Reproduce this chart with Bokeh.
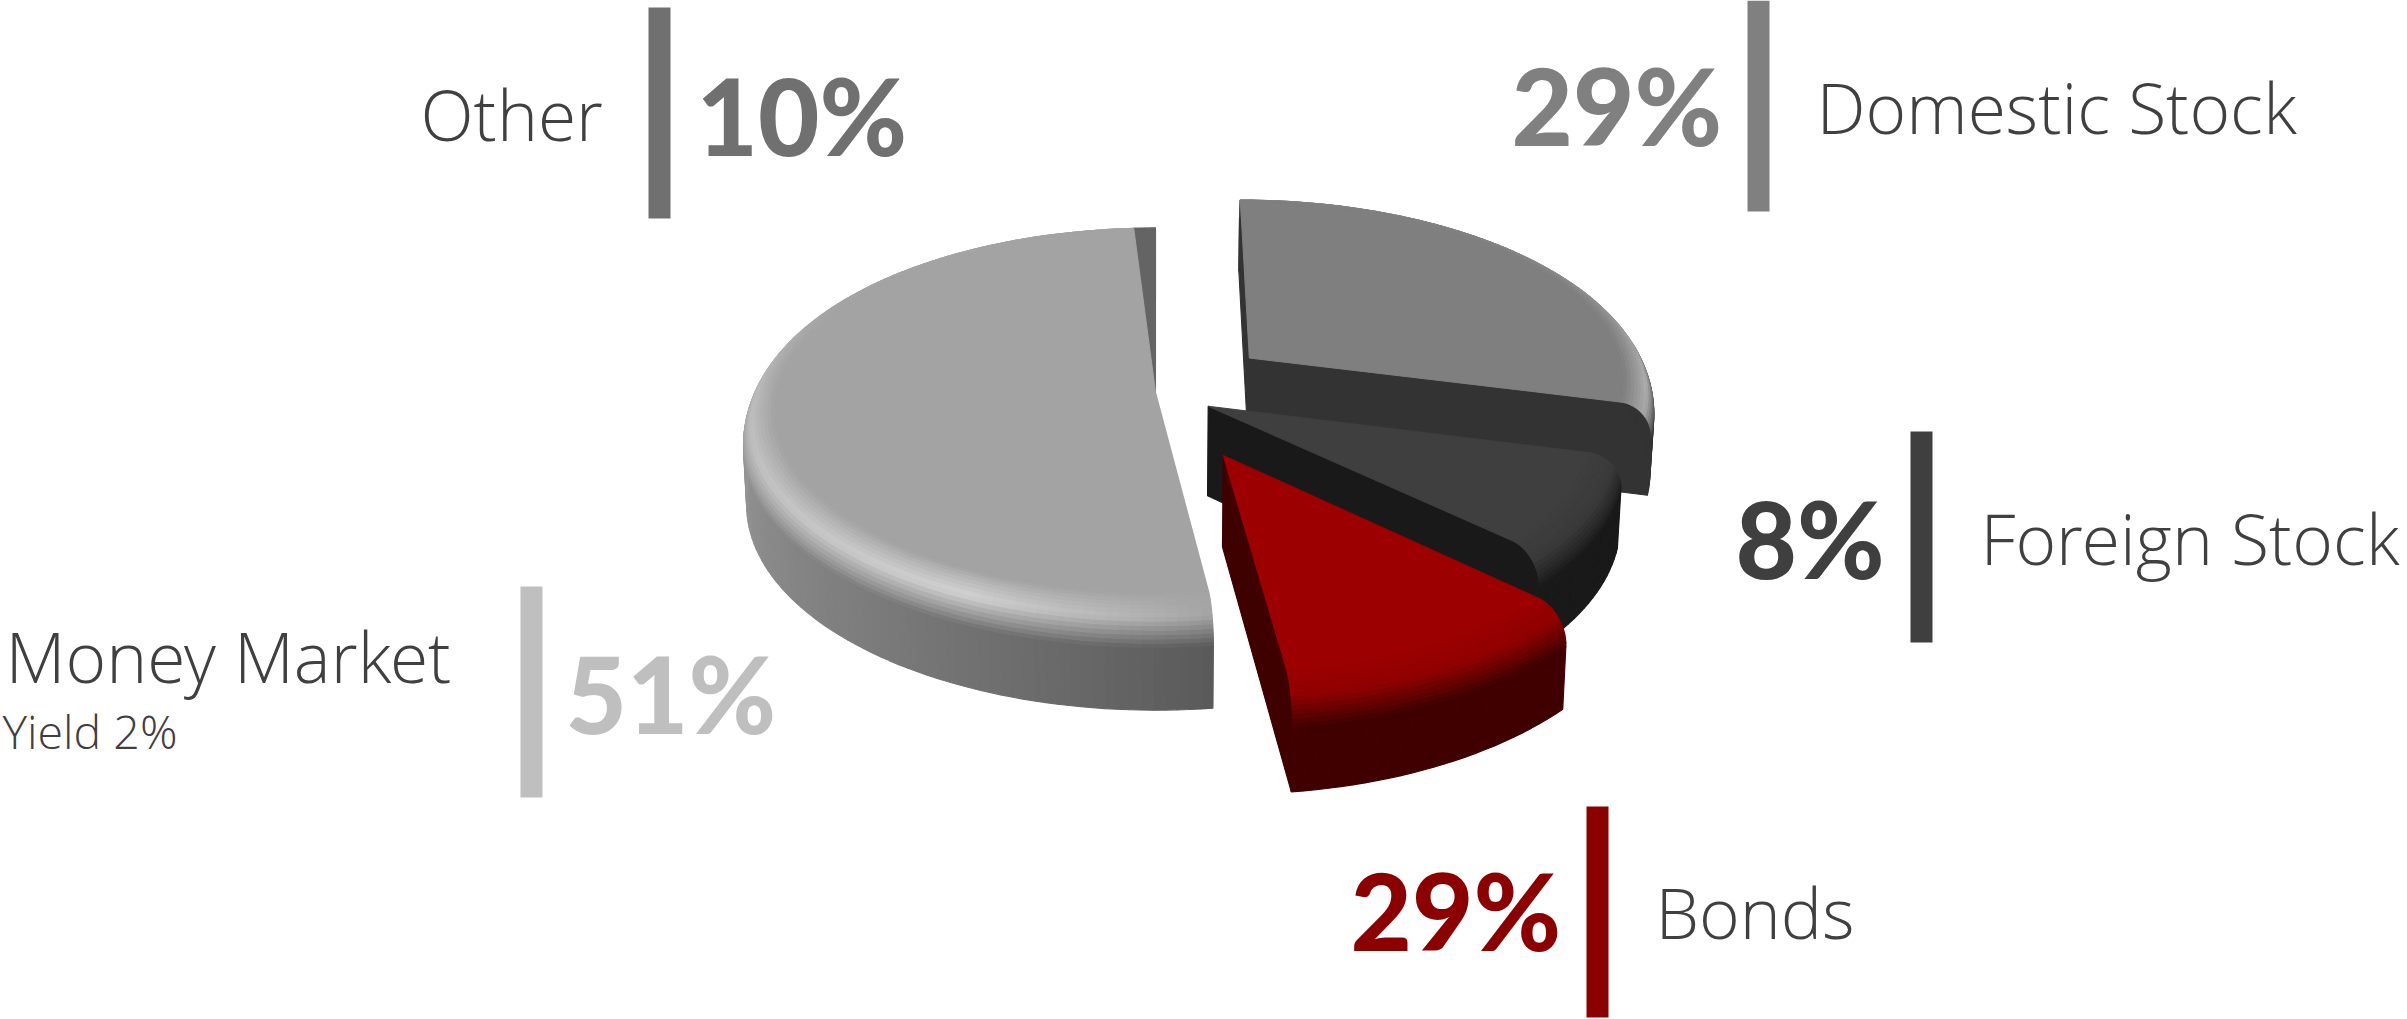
import numpy as np
from bokeh.plotting import figure
from bokeh.models import Range1d
from bokeh.core.properties import value
from bokeh.embed import file_html
from bokeh.resources import INLINE

# ---- data
slice_names = ["Other", "Domestic Stock", "Foreign Stock", "Bonds", "Money Market"]
slice_shares = [1, 29, 8, 11, 51]
slice_explode = [0.0, 0.295, 0.145, 0.35, 0.0]
label_names = ["Other", "Domestic Stock", "Foreign Stock", "Bonds", "Money Market"]
label_percents = ["10%", "29%", "8%", "29%", "51%"]
label_colors = ["#707070", "#808080", "#3f3f3f", "#8b0000", "#bfbfbf"]
sub_label = "Yield 2%"

# ---- layout of the call-outs (page pixels)
bar_left = [648, 1747, 1910, 1586, 520]
bar_top = [7, 0, 431, 806, 586]
pct_x = [696, 1511, 1735, 1350, 565]
pct_y = [157, 147, 580, 952, 735]
name_x = [420, 1816, 1980, 1655, 5]
name_y = [141, 134, 565, 939, 683]
BAR_W, BAR_H = 22, 211
PCT_SIZE, NAME_SIZE, SUB_SIZE = 106, 69.5, 46.5
BASE = 0.4  # the SVG text baseline sits this many ems under the anchor

W, H = 2407, 1019
p = figure(width=W, height=H, output_backend="svg", toolbar_location=None,
           x_range=Range1d(0, W), y_range=Range1d(H, 0),
           min_border=0, outline_line_color=None, background_fill_color="white",
           border_fill_color="white")
p.xaxis.visible = False
p.yaxis.visible = False
p.xgrid.visible = False
p.ygrid.visible = False

# ---- projection of the exploded pie
CX, CY, RX, RY, K = 1155.0, 392.0, 411.0, 194.5, 0.115
DEPTH, DROP, RF, Q = 90.0, 32.0, 0.92, 0.012


def proj(X, V, z):
    w = (1 + K * V) * (1 + Q * z / DEPTH)
    return CX + RX * X / w, CY - (RY * V - z) / w


def hexc(rgb):
    return "#%02x%02x%02x" % tuple(int(round(max(0, min(255, c)))) for c in rgb)


def grey(v):
    return (v, v, v)


def stops(th, a, b):
    return float(np.interp(th, a, b))


styles = {
    "Other": dict(flat=grey(0x64), face=grey(0x40),
                  wall=lambda t: grey(0x70), high=lambda t: grey(0x6a)),
    "Domestic Stock": dict(flat=grey(0x7f), face=grey(0x33),
                           wall=lambda t: grey(0x33),
                           high=lambda t: grey(stops(t, [0, 30, 70, 95, 105], [0x7f, 0x88, 0x98, 0xb0, 0xa8]))),
    "Foreign Stock": dict(flat=grey(0x3f), face=grey(0x19),
                          wall=lambda t: grey(0x19), high=lambda t: grey(0x3a)),
    "Bonds": dict(flat=(0x9c, 0, 0), face=(0x3f, 0, 0),
                  wall=lambda t: (0x40, 0, 0), high=lambda t: (0x90, 0, 0)),
    "Money Market": dict(flat=grey(0xa3), face=grey(0x55),
                         wall=lambda t: grey(stops(t, [172, 190, 220, 260, 300, 357],
                                                   [0x59, 0x68, 0x7c, 0x92, 0xa0, 0xa3])),
                         high=lambda t: grey(stops(t, [172, 182, 205, 240, 270, 300, 357],
                                                   [0xa3, 0xb4, 0xd2, 0xc6, 0xbe, 0xa8, 0xa3]))),
}


def bevel_colour(st, th, t):
    hi, wl, fl = st["high"](th), st["wall"](th), st["flat"]
    if t < 0.5:
        f = t / 0.5
        return hexc(tuple(fl[i] + (hi[i] - fl[i]) * f for i in range(3)))
    f = (t - 0.5) / 0.5
    return hexc(tuple(hi[i] + (wl[i] - hi[i]) * f for i in range(3)))


xs, ys, cols = [], [], []


def add(px, py, c):
    xs.append([round(float(v), 2) for v in px])
    ys.append([round(float(v), 2) for v in py])
    cols.append(c)


def profile(n=14):
    a = np.linspace(0, np.pi / 2, n + 1)
    return RF + (1 - RF) * np.sin(a), DROP * (1 - np.cos(a))


start = -3.6
for name, share, ex in zip(slice_names, slice_shares, slice_explode):
    th1, th2 = start, start + share * 3.6
    start = th2
    mid = np.radians((th1 + th2) / 2)
    ax, av = ex * np.sin(mid), ex * np.cos(mid)
    st = styles[name]
    prof_r, prof_z = profile()

    # cut faces
    for th, sign in ((th1, -1), (th2, 1)):
        s, c = np.sin(np.radians(th)), np.cos(np.radians(th))
        rr = list(prof_r) + [1.0]
        zz = list(prof_z) + [DEPTH]
        pts = [proj(ax, av, 0)] + [proj(ax + r * s, av + r * c, z) for r, z in zip(rr, zz)] + [proj(ax, av, DEPTH)]
        px = np.array([q[0] for q in pts])
        py = np.array([q[1] for q in pts])
        area = np.sum(px * np.roll(py, -1) - np.roll(px, -1) * py)
        if area * sign > 0:
            add(px, py, hexc(st["face"]))

    # angular steps
    n = max(2, int((th2 - th1) / 1.5))
    ths = np.linspace(th1, th2, n + 1)

    # outer wall
    for a, b in zip(ths[:-1], ths[1:]):
        sa, ca, sb, cb = np.sin(np.radians(a)), np.cos(np.radians(a)), np.sin(np.radians(b)), np.cos(np.radians(b))
        q = [proj(ax + sa, av + ca, DROP), proj(ax + sb, av + cb, DROP),
             proj(ax + sb, av + cb, DEPTH), proj(ax + sa, av + ca, DEPTH)]
        add([v[0] for v in q], [v[1] for v in q], hexc(st["wall"]((a + b) / 2)))

    # rounded rim, outermost ring first
    for i in range(len(prof_r) - 2, -1, -1):
        r0, r1, z0, z1 = prof_r[i], prof_r[i + 1], prof_z[i], prof_z[i + 1]
        tt = (i + 0.5) / (len(prof_r) - 1)
        for a, b in zip(ths[:-1], ths[1:]):
            sa, ca, sb, cb = np.sin(np.radians(a)), np.cos(np.radians(a)), np.sin(np.radians(b)), np.cos(np.radians(b))
            q = [proj(ax + r0 * sa, av + r0 * ca, z0), proj(ax + r0 * sb, av + r0 * cb, z0),
                 proj(ax + r1 * sb, av + r1 * cb, z1), proj(ax + r1 * sa, av + r1 * ca, z1)]
            add([v[0] for v in q], [v[1] for v in q], bevel_colour(st, (a + b) / 2, tt))

    # flat top
    q = [proj(ax, av, 0)] + [proj(ax + RF * np.sin(np.radians(t)), av + RF * np.cos(np.radians(t)), 0) for t in ths]
    add([v[0] for v in q], [v[1] for v in q], hexc(st["flat"]))

p.patches(xs, ys, fill_color=cols, line_color=cols, line_width=1.1)

# ---- call-outs
p.quad(left=bar_left, right=[b + BAR_W for b in bar_left], top=bar_top,
       bottom=[b + BAR_H for b in bar_top], fill_color=label_colors, line_color=None)
p.text(x=pct_x, y=[v - BASE * PCT_SIZE for v in pct_y], text=label_percents, text_color=label_colors,
       text_font=value("Lato Black"), text_font_size=f"{PCT_SIZE}px",
       text_baseline="alphabetic", text_align="left")
p.text(x=name_x, y=[v - BASE * NAME_SIZE for v in name_y], text=label_names, text_color="#404040",
       text_font=value("Open Sans Light"), text_font_size=f"{NAME_SIZE}px",
       text_baseline="alphabetic", text_align="left")
p.text(x=[2], y=[749 - BASE * SUB_SIZE], text=[sub_label], text_color="#404040",
       text_font=value("Open Sans Light"), text_font_size=f"{SUB_SIZE}px",
       text_baseline="alphabetic", text_align="left")

open("out.html", "w").write(file_html(p, INLINE))
